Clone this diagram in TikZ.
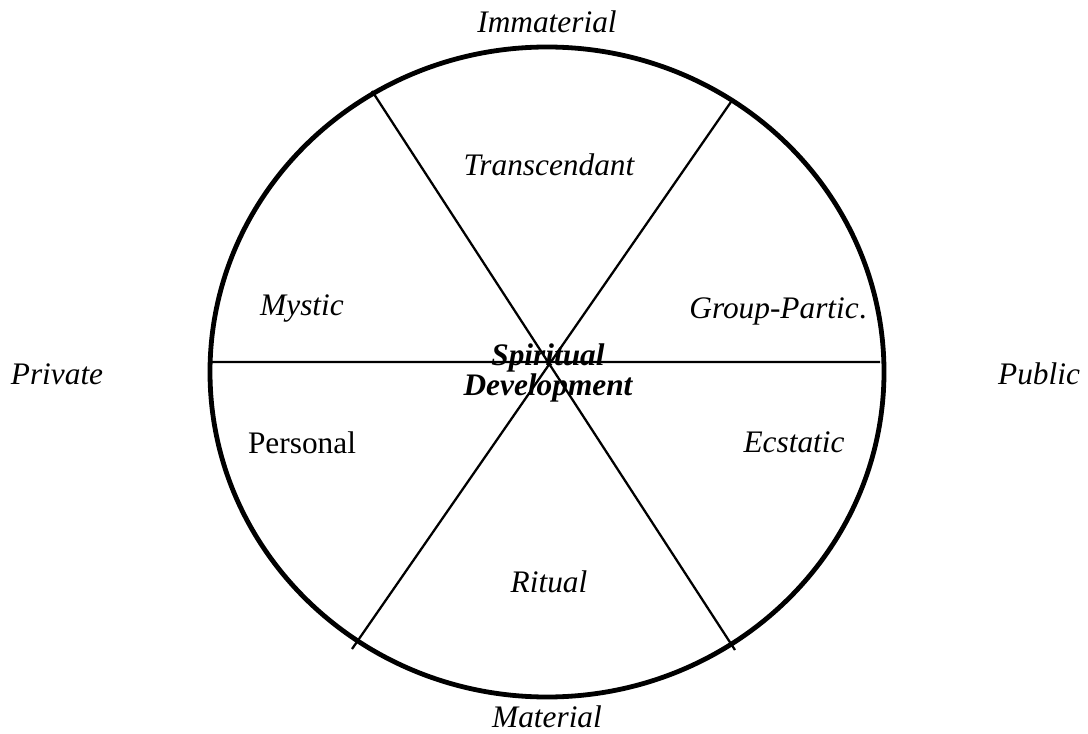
\documentclass[tikz,border=0pt]{standalone}
\usepackage{fontspec}
\setmainfont{Liberation Serif}
\begin{document}
\begin{tikzpicture}[x=0.75pt,y=-0.75pt]
			\tikzstyle{lbl}=[inner sep=0pt,anchor=base,font=\fontsize{23.5}{28}\selectfont\itshape]
			\tikzstyle{rom}=[lbl,font=\fontsize{23.5}{28}\selectfont]
			\tikzstyle{bld}=[lbl,font=\fontsize{23.5}{28}\selectfont\bfseries\itshape]
			\useasboundingbox (0,0) rectangle (1088,734);
			\draw[line width=3.6pt] (547,372) ellipse [x radius=252.75pt, y radius=243.75pt];
			
			\coordinate (h1) at (210,362);
			\coordinate (h2) at (880,362);
			\coordinate (d1) at (372,91);
			\coordinate (d2) at (735,650);
			\coordinate (d3) at (733,99);
			\coordinate (d4) at (352,649);
			\draw[line width=1.7pt] (h1) -- (h2)
			(d1) -- (d2)
			(d3) -- (d4);
			
			\node[lbl](imm)at(547,33){Immaterial};
			\node[lbl](mat)at(547,727){Material};
			\node[lbl](priv)at(57,384){Private};
			\node[lbl](pub)at(1039,384){Public};
			
			\node[lbl](tra)at(549,176){Transcendant};
			\node[lbl](mys)at(302,315){Mystic};
			\node[lbl](grp)at(778,318){Group-Partic\upshape.};
			\node[rom](per)at(302,453){Personal};
			\node[lbl](ecs)at(794,452){Ecstatic};
			\node[lbl](rit)at(549,592){Ritual};
			
			\node[bld](sp1)at(548,365){Spiritual};
			\node[bld](sp2)at(548,395){Development};
\end{tikzpicture}
\end{document}
